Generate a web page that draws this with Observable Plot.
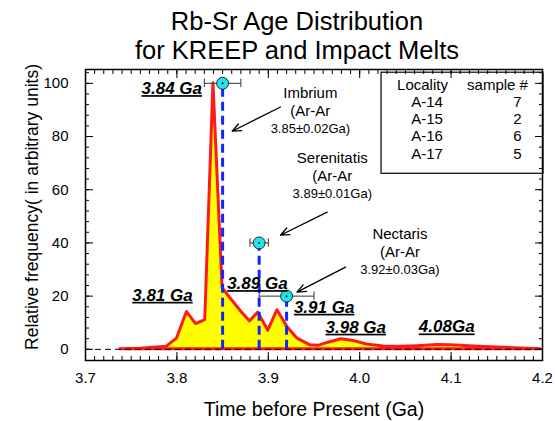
<!DOCTYPE html>
<html><head><meta charset="utf-8">
<script src="https://cdn.jsdelivr.net/npm/d3@7"></script>
<script src="https://cdn.jsdelivr.net/npm/@observablehq/plot@0.6"></script>
<style>
body{margin:0;background:#fff}
svg{font-family:"Liberation Sans",Arial,sans-serif}
</style>
</head><body><div id="chart"></div>
<script>
// Rb-Sr age distribution curve
const ageGa   = [3.738,3.760,3.789,3.800,3.811,3.821,3.831,3.840,3.850,3.859,3.870,3.880,3.889,3.900,3.910,3.921,3.932,3.946,3.955,3.965,3.980,3.995,4.008,4.026,4.045,4.063,4.085,4.100,4.120,4.137,4.170,4.198];
const relFreq = [0,0.2,1,4,14,9.5,11,100,23,19,14.3,10.5,13.8,7,14.7,8.3,4,1.5,1.3,2.4,3.8,3,1.8,1.1,1.0,1.2,1.6,1.5,1.2,0.9,0.4,0];

// Ar-Ar basin ages
const basinName  = ["Imbrium","Serenitatis","Nectaris"];
const basinAge   = [3.85,3.89,3.92];
const basinErr   = [0.02,0.01,0.03];
const basinLevel = [100,40,20];
const basinAgeText = ["3.85±0.02Ga)","3.89±0.01Ga)","3.92±0.03Ga)"];
// annotation anchor positions (data units)
const basinLabelX = [3.946,3.970,4.044];
const basinLabelY = [96.1,71.7,43.1];
const arrowFromX = [3.9133,3.9644,3.9845];
const arrowFromY = [91.1,51.6,30.9];
const arrowToX   = [3.8605,3.9133,3.9314];
const arrowToY   = [82.0,42.9,21.5];

// Peak labels
const peakText = ["3.84 Ga","3.81 Ga","3.89 Ga","3.91 Ga","3.98 Ga","4.08Ga"];
const peakTextX = [3.7613,3.7511,3.855,3.928,3.9626,4.0647];
const peakTextY = [98.0,20.3,24.7,15.8,8.3,8.4];

// Legend table
const localities = ["A-14","A-15","A-16","A-17"];
const sampleCounts = [7,2,6,5];

// Axis ticks
const xTicks = [3.7,3.8,3.9,4.0,4.1,4.2];
const yTicks = [0,20,40,60,80,100];
const xMinor = d3.range(370,421).map(i => i/100);
const yMinor = d3.range(0,105,4);

const curve = ageGa.map((a,i) => ({a, f: relFreq[i]}));
const basins = basinName.map((n,i) => ({n, a: basinAge[i], e: basinErr[i], y: basinLevel[i], t: basinAgeText[i],
  lx: basinLabelX[i], ly: basinLabelY[i], x1: arrowFromX[i], y1: arrowFromY[i], x2: arrowToX[i], y2: arrowToY[i]}));
const peaks = peakText.map((t,i) => ({t, x: peakTextX[i], y: peakTextY[i]}));
const legendRows = localities.map((l,i) => ({l, n: sampleCounts[i], i}));
const rowY = i => 93.0 - i*6.5;

const plot = Plot.plot({
  width: 555, height: 421,
  marginLeft: 85, marginRight: 13, marginTop: 69, marginBottom: 61,
  x: {domain: [3.7, 4.2], axis: null},
  y: {domain: [-4.2, 105.2], axis: null},
  marks: [
    Plot.areaY(curve, {x: "a", y: "f", fill: "#ffff00", stroke: "#ff1a1a", strokeWidth: 3}),
    Plot.ruleY([0], {stroke: "black", strokeWidth: 1, strokeDasharray: "6,4"}),
    Plot.ruleX(basins, {x: "a", y1: 0, y2: "y", stroke: "#1028ff", strokeWidth: 3, strokeDasharray: "9,5"}),
    Plot.link(basins, {x1: d => d.a - d.e, x2: d => d.a + d.e, y1: "y", y2: "y", stroke: "#333", strokeWidth: 1}),
    Plot.ruleX(basins, {x: d => d.a - d.e, y1: d => d.y - 1.6, y2: d => d.y + 1.6, stroke: "#333", strokeWidth: 1}),
    Plot.ruleX(basins, {x: d => d.a + d.e, y1: d => d.y - 1.6, y2: d => d.y + 1.6, stroke: "#333", strokeWidth: 1}),
    Plot.dot(basins, {x: "a", y: "y", r: 6, fill: "#22e3ea", stroke: "black", strokeWidth: 0.8}),
    Plot.dot(basins, {x: "a", y: "y", r: 1, fill: "black"}),
    Plot.arrow(basins, {x1: "x1", y1: "y1", x2: "x2", y2: "y2", stroke: "black", strokeWidth: 1.3, headLength: 11, headAngle: 45}),
    Plot.text(basins, {x: "lx", y: "ly", text: d => d.n + "\n(Ar-Ar", lineAnchor: "top", lineHeight: 1.22, dy: -9, fontSize: 15}),
    Plot.text(basins, {x: "lx", y: "ly", text: "t", dy: 35, fontSize: 13}),
    Plot.text(peaks, {x: "x", y: "y", text: "t", textAnchor: "start", fontSize: 17, fontWeight: "bold", fontStyle: "italic"}),
    // legend box
    Plot.rect([0], {x1: 4.0239, x2: 4.2011, y1: 66.0, y2: 104.0, fill: "white", stroke: "black", strokeWidth: 1.2}),
    Plot.text(["Locality"], {x: 4.0409, y: 99.2, textAnchor: "start", fontSize: 15}),
    Plot.text(["sample #"], {x: 4.1175, y: 99.2, textAnchor: "start", fontSize: 15}),
    Plot.text(legendRows, {x: 4.0563, y: d => rowY(d.i), text: "l", textAnchor: "start", fontSize: 15}),
    Plot.text(legendRows, {x: 4.1726, y: d => rowY(d.i), text: d => String(d.n), fontSize: 15}),
    // frame and inward ticks
    Plot.frame({stroke: "black", strokeWidth: 1.5}),
    Plot.axisX(xMinor, {anchor: "bottom", tickSize: -4, text: null, label: null}),
    Plot.axisX(xTicks, {anchor: "bottom", tickSize: -8, text: null, label: null}),
    Plot.axisX(xMinor, {anchor: "top", tickSize: -4, text: null, label: null}),
    Plot.axisX(xTicks, {anchor: "top", tickSize: -8, text: null, label: null}),
    Plot.axisY(yMinor, {anchor: "left", tickSize: -4, text: null, label: null}),
    Plot.axisY(yTicks, {anchor: "left", tickSize: -8, text: null, label: null}),
    Plot.axisY(yMinor, {anchor: "right", tickSize: -4, text: null, label: null}),
    Plot.axisY(yTicks, {anchor: "right", tickSize: -8, text: null, label: null}),
    Plot.axisX(xTicks, {anchor: "bottom", tickSize: 0, tickPadding: 12, fontSize: 15, tickFormat: d => d.toFixed(1), label: null, color: "black"}),
    Plot.axisY(yTicks, {anchor: "left", tickSize: 0, tickPadding: 17, fontSize: 15, label: null, color: "black"}),
    Plot.text(["Time before Present (Ga)"], {frameAnchor: "bottom", dy: 49, fontSize: 19.5, lineAnchor: "middle"}),
    Plot.text(["Relative frequency( in arbitrary units)"], {frameAnchor: "left", textAnchor: "middle", lineAnchor: "middle", rotate: -90, dx: -53, dy: -8, fontSize: 17.5}),
    Plot.text(["Rb-Sr Age Distribution\nfor KREEP and Impact Melts"], {frameAnchor: "top", lineAnchor: "middle", dx: -17, dy: -34, fontSize: 25.5, lineHeight: 1.12})
  ]
});
const peakSet = new Set(peakText);
d3.select(plot).selectAll("text").filter(function() { return peakSet.has(this.textContent); })
  .style("text-decoration", "underline")
  .style("text-decoration-thickness", "2px");
document.getElementById("chart").append(plot);
</script>
</body></html>
